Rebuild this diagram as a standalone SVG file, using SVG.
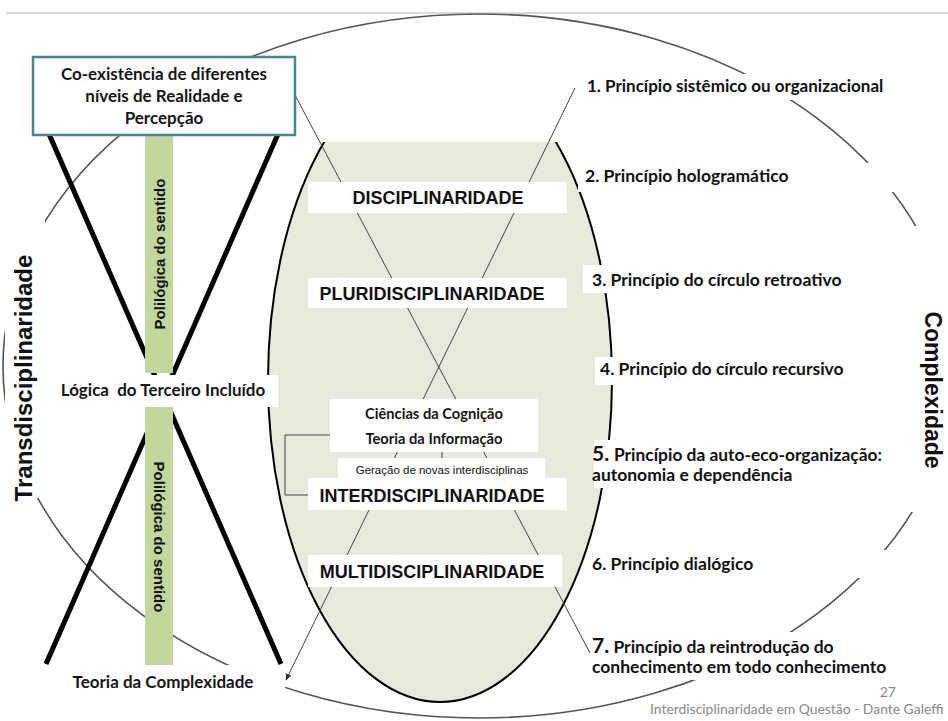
<svg xmlns="http://www.w3.org/2000/svg" width="948" height="721" viewBox="0 0 948 721">
<defs>
<marker id="arr" viewBox="0 0 10 10" refX="9" refY="5" markerWidth="7" markerHeight="7" orient="auto" markerUnits="userSpaceOnUse">
<path d="M0,1 L10,5 L0,9 z" fill="#333"/>
</marker>
<clipPath id="cutTop"><rect x="0" y="142" width="948" height="579"/></clipPath>
<style>
.cal{font-family:Lato,"Open Sans","Liberation Sans",sans-serif;font-weight:bold;fill:#161616;}
.hel{font-family:"Liberation Sans",Arial,sans-serif;font-weight:bold;fill:#111;}
.pr{font-family:Lato,"Liberation Sans",sans-serif;font-weight:bold;font-size:17.5px;fill:#111;}
.big{font-size:21px;}
.wbg{fill:#fff;}
.thin{stroke:#444;stroke-width:1;fill:none;}
.thick{stroke:#000;stroke-width:5;fill:none;}
.bar{fill:#c3d69b;}
.gray{font-family:Lato,"Open Sans",sans-serif;fill:#8a8a8a;}
</style>
</defs>
<rect width="948" height="721" fill="#fff"/>
<line x1="6" y1="13" x2="948" y2="13" stroke="#cfcfcf" stroke-width="1.5"/>
<g id="outer-ellipse">
<ellipse cx="479" cy="366" rx="476" ry="352" fill="none" stroke="#555" stroke-width="1.6"/>
<rect class="wbg" x="902" y="226" width="46" height="286"/>
</g>
<g id="inner-ellipse">
<ellipse cx="440" cy="380" rx="172" ry="322" fill="#e9e8dd" stroke="#000" stroke-width="2" clip-path="url(#cutTop)"/>
</g>
<g id="connectors">
<line class="thin" x1="295" y1="95" x2="590" y2="653"/>
<line class="thin" x1="575" y1="88" x2="286" y2="680" marker-end="url(#arr)"/>
<line class="thin" x1="442" y1="452" x2="442" y2="458"/>
<polyline class="thin" points="330,435 285,435 285,495 308,495"/>
<line class="thick" x1="49" y1="134" x2="281" y2="664"/>
<line class="thick" x1="278" y1="134" x2="46" y2="664"/>
</g>
<g id="poli-top">
<rect class="bar" x="145" y="135" width="28" height="238"/>
<text class="hel" font-size="15" text-anchor="middle" transform="translate(165,254) rotate(-90)">Polilógica do sentido</text>
</g>
<g id="poli-bottom">
<rect class="bar" x="145" y="407" width="28" height="258"/>
<text class="hel" font-size="15" text-anchor="middle" transform="translate(154,537) rotate(90)">Polilógica do sentido</text>
</g>
<g id="coexistencia">
<rect x="33" y="57" width="262" height="78" fill="#fff" stroke="#4a8494" stroke-width="2.5"/>
<text class="cal" font-size="17" text-anchor="middle"><tspan x="164" y="80">Co-existência de diferentes</tspan><tspan x="164" y="102">níveis de Realidade e</tspan><tspan x="164" y="124">Percepção</tspan></text>
</g>
<g id="logica">
<rect class="wbg" x="55" y="375" width="223" height="32"/>
<text class="cal" font-size="17" text-anchor="middle" x="163" y="396" xml:space="preserve" style="white-space:pre">Lógica  do Terceiro Incluído</text>
</g>
<g id="teoria-complexidade">
<rect class="wbg" x="60" y="665" width="225" height="30"/>
<text class="cal" font-size="17" text-anchor="middle" x="163" y="688">Teoria da Complexidade</text>
</g>
<g id="transdisciplinaridade">
<rect class="wbg" x="5" y="196" width="40" height="302"/>
<text class="hel" font-size="24" text-anchor="middle" transform="translate(32,378) rotate(-90)">Transdisciplinaridade</text>
</g>
<g id="complexidade">
<text class="hel" font-size="23" text-anchor="middle" transform="translate(925,390) rotate(90)">Complexidade</text>
</g>
<g id="disciplinaridade">
<rect class="wbg" x="308" y="182" width="259" height="31"/>
<text class="hel" font-size="18" text-anchor="middle" x="438" y="204">DISCIPLINARIDADE</text>
</g>
<g id="pluridisciplinaridade">
<rect class="wbg" x="308" y="278" width="259" height="30"/>
<text class="hel" font-size="18" text-anchor="middle" x="432" y="300">PLURIDISCIPLINARIDADE</text>
</g>
<g id="ciencias">
<rect class="wbg" x="330" y="399" width="208" height="53"/>
<text class="cal" font-size="14.7" text-anchor="middle"><tspan x="434" y="419">Ciências da Cognição</tspan><tspan x="434" y="444">Teoria da Informação</tspan></text>
</g>
<g id="geracao">
<rect class="wbg" x="338" y="458" width="207" height="22"/>
<text font-family="Liberation Sans, Arial, sans-serif" font-size="11.5" fill="#111" text-anchor="middle" x="442" y="474">Geração de novas interdisciplinas</text>
</g>
<g id="interdisciplinaridade">
<rect class="wbg" x="308" y="478" width="259" height="32"/>
<text class="hel" font-size="18" text-anchor="middle" x="432" y="502">INTERDISCIPLINARIDADE</text>
</g>
<g id="multidisciplinaridade">
<rect class="wbg" x="308" y="555" width="254" height="32"/>
<text class="hel" font-size="18" text-anchor="middle" x="432" y="578">MULTIDISCIPLINARIDADE</text>
</g>
<g id="p1">
<rect class="wbg" x="580" y="74" width="310" height="26"/>
<text class="pr" style="font-size:17px" x="587" y="92">1. Princípio sistêmico ou organizacional</text>
</g>
<g id="p2">
<rect class="wbg" x="578" y="163" width="317" height="29"/>
<text class="pr" x="585" y="182">2. Princípio hologramático</text>
</g>
<g id="p3">
<rect class="wbg" x="583" y="265" width="249" height="28"/>
<text class="pr" x="592" y="286">3. Princípio do círculo retroativo</text>
</g>
<g id="p4">
<rect class="wbg" x="595" y="357" width="275" height="28"/>
<text class="pr" x="600" y="375">4. Princípio do círculo recursivo</text>
</g>
<g id="p5">
<rect class="wbg" x="594" y="440" width="321" height="48"/>
<text class="pr big" style="font-size:21px" x="592" y="461">5.</text>
<text class="pr" style="font-size:16.5px" x="614" y="461" textLength="268" lengthAdjust="spacingAndGlyphs">Princípio da auto-eco-organização:</text>
<text class="pr" x="592" y="481">autonomia e dependência</text>
</g>
<g id="p6">
<rect class="wbg" x="590" y="550" width="320" height="28"/>
<text class="pr" x="592" y="570">6. Princípio dialógico</text>
</g>
<g id="p7">
<rect class="wbg" x="592" y="632" width="313" height="48"/>
<text class="pr" x="592" y="653"><tspan class="big">7.</tspan> Princípio da reintrodução do</text>
<text class="pr" x="592" y="673">conhecimento em todo conhecimento</text>
</g>
<g id="footer">
<text class="gray" font-size="14" text-anchor="end" x="896" y="697">27</text>
<text class="gray" font-size="13.9" x="650" y="714">Interdisciplinaridade em Questão - Dante Galeffi</text>
</g>
</svg>
